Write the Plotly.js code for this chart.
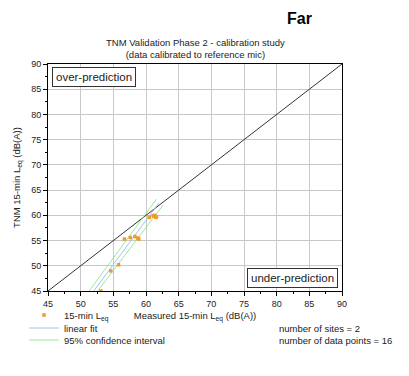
<!DOCTYPE html>
<html><head><meta charset="utf-8">
<script src="https://cdn.plot.ly/plotly-3.0.1.min.js"></script>
<style>html,body{margin:0;padding:0;background:#fff}#c{width:409px;height:376px}</style>
</head><body><div id="c"></div>
<script>
// Data
const measured = [53.1, 54.6, 55.8, 56.7, 57.6, 58.3, 58.8, 58.9, 58.7, 60.5, 61.1, 61.2, 61.3, 61.4, 61.5, 61.6];
const predicted = [45.0, 49.0, 50.2, 55.3, 55.6, 55.8, 55.4, 55.3, 55.5, 59.6, 59.9, 59.9, 60.0, 59.8, 59.6, 59.7];
const fitX = [52.0, 62.0];
const fitY = [45.0, 62.5];
const ciUpperX = [51.3, 61.6];
const ciUpperY = [45.0, 63.2];
const ciLowerX = [52.6, 62.6];
const ciLowerY = [45.0, 62.0];
const refX = [45, 90];
const refY = [45, 90];
const tickVals = [45, 50, 55, 60, 65, 70, 75, 80, 85, 90];

const F = 'Arial, Liberation Sans, sans-serif';
const FIT = '#a8bff0', CI = '#9be89b';
const traces = [
  {x: refX, y: refY, mode: 'lines', line: {color: '#333', width: 1}, showlegend: false},
  {x: ciUpperX, y: ciUpperY, mode: 'lines', line: {color: CI, width: 1}, showlegend: false},
  {x: ciLowerX, y: ciLowerY, mode: 'lines', line: {color: CI, width: 1}, showlegend: false},
  {x: fitX, y: fitY, mode: 'lines', line: {color: FIT, width: 1}, showlegend: false},
  {x: measured, y: predicted, mode: 'markers', name: '15-min L<sub>eq</sub>', legend: 'legend',
   marker: {symbol: 'square', size: 3.5, color: '#f39a2a'}},
  {x: [null], y: [null], mode: 'lines', name: 'linear fit', legend: 'legend2', line: {color: FIT, width: 1}},
  {x: [null], y: [null], mode: 'lines', name: '95% confidence interval', legend: 'legend3', line: {color: CI, width: 1}}
];
const ax = {
  range: [45, 90], tickvals: tickVals, showline: true, linecolor: '#000', linewidth: 1, mirror: true,
  ticks: 'outside', ticklen: 4, tickcolor: '#000', gridcolor: '#c8c8c8', gridwidth: 1, zeroline: false,
  minor: {dtick: 2.5, ticklen: 2, tickcolor: '#000', showgrid: false, ticks: 'outside'},
  tickfont: {family: F, size: 9, color: '#222'}
};
const lg = (y) => ({x: -0.0816, y: y, xanchor: 'left', yanchor: 'middle', font: {family: F, size: 9.5, color: '#222'},
  bgcolor: 'rgba(0,0,0,0)', itemwidth: 30, borderwidth: 0});
const layout = {
  width: 409, height: 376,
  margin: {l: 48, r: 67, t: 64, b: 85},
  paper_bgcolor: '#fff', plot_bgcolor: '#fff',
  font: {family: F, color: '#222'},
  xaxis: Object.assign({}, ax, {title: {text: 'Measured 15-min L<sub>eq</sub> (dB(A))', font: {family: F, size: 9.5}, standoff: 4}}),
  yaxis: Object.assign({}, ax, {title: {text: 'TNM 15-min L<sub>eq</sub> (dB(A))', font: {family: F, size: 9.5}, standoff: 8}}),
  showlegend: true,
  legend: lg(-0.1057),
  legend2: lg(-0.163),
  legend3: lg(-0.216),
  annotations: [
    {text: '<b>Far</b>', xref: 'paper', yref: 'paper', x: 0.857, y: 1.0, yshift: 46, xanchor: 'center', yanchor: 'middle', showarrow: false,
     font: {family: F, size: 16, color: '#000'}},
    {text: 'TNM Validation Phase 2 - calibration study<br>(data calibrated to reference mic)', xref: 'paper', yref: 'paper',
     x: 0.5, y: 1, yanchor: 'bottom', yshift: 2, showarrow: false, font: {family: F, size: 9.5, color: '#222'}},
    {text: 'over-prediction', xref: 'paper', yref: 'paper', x: 0.015, y: 0.985, xanchor: 'left', yanchor: 'top',
     showarrow: false, bordercolor: '#333', borderwidth: 1, borderpad: 3, bgcolor: '#fff', font: {family: F, size: 11.5, color: '#222'}},
    {text: 'under-prediction', xref: 'paper', yref: 'paper', x: 0.985, y: 0.015, xanchor: 'right', yanchor: 'bottom',
     showarrow: false, bordercolor: '#333', borderwidth: 1, borderpad: 3, bgcolor: '#fff', font: {family: F, size: 11.5, color: '#222'}},
    {text: 'number of sites = 2<br>number of data points = 16', xref: 'paper', yref: 'paper', x: 0.779, y: -0.132,
     xanchor: 'left', yanchor: 'top', align: 'left', showarrow: false, font: {family: F, size: 9.5, color: '#222'}}
  ]
};
Plotly.newPlot('c', traces, layout, {displayModeBar: false, staticPlot: true});
</script></body></html>
